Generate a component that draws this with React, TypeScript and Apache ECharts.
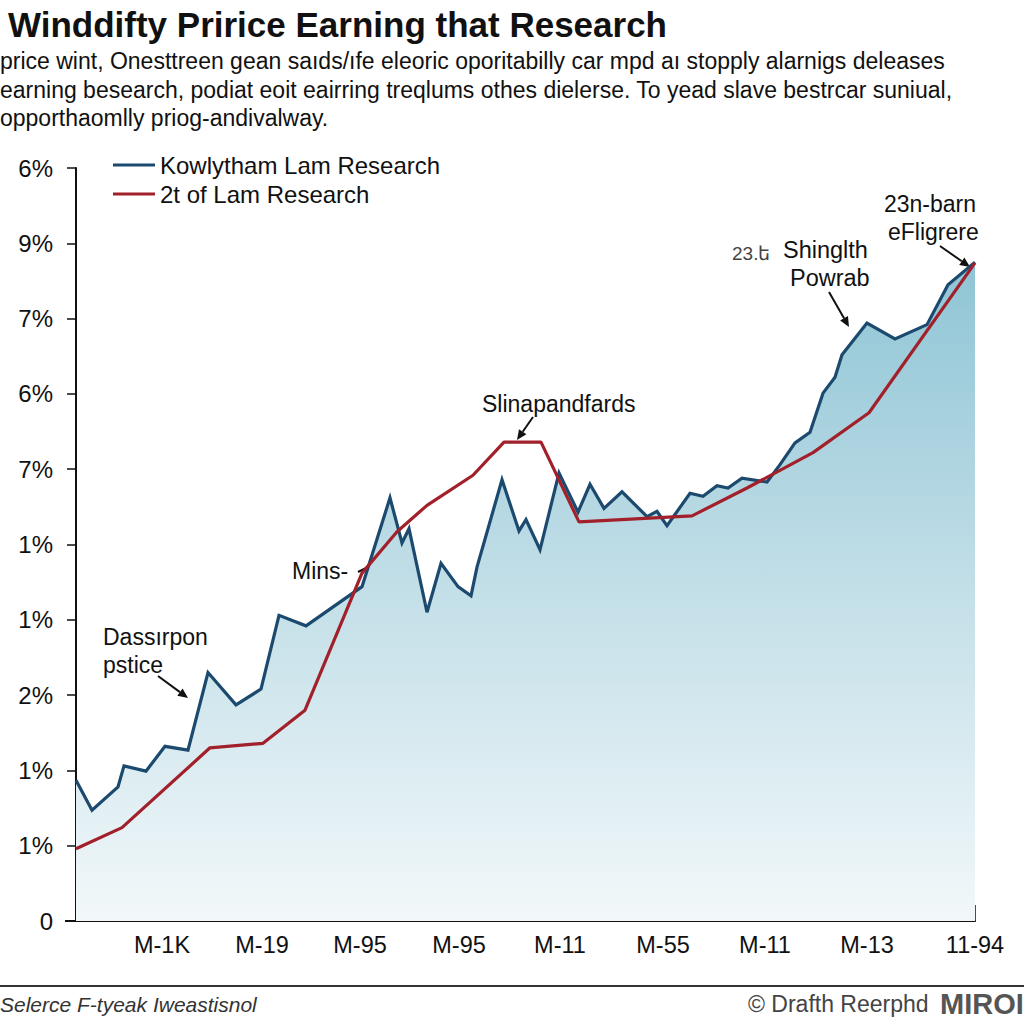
import React, { useEffect, useRef } from "react";
import * as echarts from "echarts";

const titleText = "Winddifty Pririce Earning that Research";
const subtitleLines = [
  "price wint, Onesttreen gean saıds/ıfe eleoric oporitabilly car mpd aı stopply alarnigs deleases",
  "earning besearch, podiat eoit eairring treqlums othes dielerse. To yead slave bestrcar suniual,",
  "opporthaomlly priog-andivalway.",
];
const seriesNames = ["Kowlytham Lam Research", "2t of Lam Research"];
const yTickLabels = ["0", "1%", "1%", "2%", "1%", "1%", "7%", "6%", "7%", "9%", "6%"];
const xTickPositions = [8.6, 18.6, 28.4, 38.3, 48.4, 58.7, 68.9, 79.1, 89.9];
const xTickLabels = ["M-1K", "M-19", "M-95", "M-95", "M-11", "M-55", "M-11", "M-13", "11-94"];

const blueX = [0, 1.6, 4.2, 4.8, 7.0, 8.9, 11.2, 13.2, 16.0, 18.5, 20.3, 23.0, 28.6, 31.4, 32.6, 33.3, 35.1, 36.5, 38.2, 39.5, 40.1, 42.6, 44.3, 45.0, 46.4, 48.3, 50.2, 51.4, 52.8, 54.6, 57.1, 58.1, 59.1, 61.4, 62.7, 64.1, 65.2, 66.6, 69.1, 70.4, 71.9, 73.4, 74.7, 75.9, 76.6, 79.1, 81.9, 85.1, 87.2, 89.9];
const blueY = [1.87, 1.47, 1.78, 2.06, 1.99, 2.32, 2.27, 3.3, 2.87, 3.08, 4.06, 3.92, 4.44, 5.62, 5.02, 5.21, 4.1, 4.75, 4.44, 4.32, 4.7, 5.86, 5.18, 5.33, 4.93, 5.95, 5.43, 5.8, 5.48, 5.7, 5.37, 5.44, 5.25, 5.68, 5.64, 5.78, 5.75, 5.88, 5.83, 6.06, 6.35, 6.49, 7.01, 7.22, 7.52, 7.94, 7.73, 7.92, 8.45, 8.75];
const redX = [0, 4.6, 13.4, 18.7, 22.9, 28.6, 32.1, 35.1, 39.7, 42.8, 46.5, 50.3, 61.6, 67.1, 73.7, 79.3, 89.9];
const redY = [0.96, 1.24, 2.3, 2.36, 2.8, 4.62, 5.17, 5.52, 5.92, 6.36, 6.36, 5.3, 5.38, 5.75, 6.22, 6.75, 8.74];

const FONT = '"Liberation Sans", Arial, Helvetica, sans-serif';

function arrow(x1: number, y1: number, x2: number, y2: number): any[] {
  const dx = x2 - x1;
  const dy = y2 - y1;
  const len = Math.sqrt(dx * dx + dy * dy);
  const ux = dx / len;
  const uy = dy / len;
  const hl = 10;
  const hw = 4.5;
  const bx = x2 - ux * hl;
  const by = y2 - uy * hl;
  return [
    {
      type: "line",
      shape: { x1, y1, x2: bx, y2: by },
      style: { stroke: "#111", lineWidth: 2 },
      silent: true,
    },
    {
      type: "polygon",
      shape: {
        points: [
          [x2, y2],
          [bx - uy * hw, by + ux * hw],
          [bx + uy * hw, by - ux * hw],
        ],
      },
      style: { fill: "#111" },
      silent: true,
    },
  ];
}

function txt(text: string, x: number, y: number, size: number, extra: any = {}): any {
  return {
    type: "text",
    x,
    y,
    style: {
      text,
      fill: extra.fill || "#111",
      font: `${extra.style || "normal"} ${extra.weight || "normal"} ${size}px ${FONT}`,
      textVerticalAlign: "middle",
      textAlign: extra.align || "left",
    },
    silent: true,
  };
}

export default function App() {
  const ref = useRef<HTMLDivElement>(null);
  useEffect(() => {
    if (!ref.current) return;
    const chart = echarts.init(ref.current, null, { renderer: "svg" });
    const blueData = blueX.map((x, i) => [x, blueY[i]]);
    const redData = redX.map((x, i) => [x, redY[i]]);

    const graphics: any[] = [
      txt(titleText, 8, 24, 35, { weight: "bold" }),
      txt(subtitleLines[0], 0, 61, 23),
      txt(subtitleLines[1], 0, 90, 23),
      txt(subtitleLines[2], 0, 118, 23),
      // annotations
      txt("Dassırpon", 103, 637, 23),
      txt("pstice", 103, 665, 23),
      ...arrow(158, 676, 188, 698),
      txt("Mins-", 292, 571, 23),
      ...arrow(358, 572, 396, 553),
      txt("Slinapandfards", 482, 404, 23),
      ...arrow(533, 417, 517, 440),
      txt("23.ե", 732, 253, 19, { fill: "#444" }),
      txt("Shinglth", 783, 250, 23.5),
      txt("Powrab", 790, 278, 23.5),
      ...arrow(829, 292, 849, 327),
      txt("23n-barn", 884, 204, 23),
      txt("eFligrere", 888, 232, 23),
      ...arrow(940, 246, 970, 267),
      // x-axis extension to the left
      {
        type: "line",
        shape: { x1: 65, y1: 921, x2: 76, y2: 921 },
        style: { stroke: "#111", lineWidth: 2 },
        silent: true,
      },
      // footer
      {
        type: "line",
        shape: { x1: 0, y1: 986, x2: 1024, y2: 986 },
        style: { stroke: "#333", lineWidth: 2 },
        silent: true,
      },
      txt("Selerce F-tyeak Iweastisnol", 0, 1004, 21, { style: "italic", fill: "#333" }),
      txt("© Drafth Reerphd", 748, 1004, 23, { fill: "#444" }),
      txt("MIROI", 940, 1004, 29, { weight: "bold", fill: "#555" }),
    ];

    chart.setOption({
      animation: false,
      backgroundColor: "#ffffff",
      textStyle: { fontFamily: FONT },
      grid: { left: 76, right: 49, top: 168, bottom: 103, containLabel: false },
      legend: {
        show: true,
        orient: "vertical",
        left: 108,
        top: 148,
        itemWidth: 42,
        itemHeight: 3,
        itemGap: 5,
        icon: "rect",
        textStyle: { fontSize: 24, color: "#111", fontFamily: FONT, padding: [0, 0, 0, 0] },
        data: seriesNames,
      },
      xAxis: {
        type: "value",
        min: 0,
        max: 89.9,
        splitLine: { show: false },
        axisLine: { show: true, lineStyle: { color: "#111", width: 2 } },
        axisTick: {
          show: true,
          inside: true,
          length: 16,
          lineStyle: { color: "#111", width: 1.5 },
          customValues: xTickPositions,
        },
        axisLabel: {
          show: true,
          fontSize: 23.5,
          color: "#111",
          margin: 12,
          fontFamily: FONT,
          customValues: xTickPositions,
          formatter: (v: number) => {
            const i = xTickPositions.findIndex((p) => Math.abs(p - v) < 0.05);
            return i >= 0 ? xTickLabels[i] : "";
          },
        },
      },
      yAxis: {
        type: "value",
        min: 0,
        max: 10,
        interval: 1,
        splitLine: { show: false },
        axisLine: { show: true, lineStyle: { color: "#111", width: 2 } },
        axisTick: { show: true, inside: false, length: 9, lineStyle: { color: "#111", width: 1.5 } },
        axisLabel: {
          fontSize: 24,
          color: "#111",
          margin: 23,
          fontFamily: FONT,
          formatter: (v: number) => yTickLabels[Math.round(v)] ?? "",
        },
      },
      series: [
        {
          name: seriesNames[0],
          type: "line",
          data: blueData,
          symbol: "none",
          z: 3,
          lineStyle: { color: "#1b4a6e", width: 3.2, join: "miter" },
          itemStyle: { color: "#1b4a6e" },
          areaStyle: {
            color: new echarts.graphic.LinearGradient(0, 0, 0, 1, [
              { offset: 0, color: "#8fc5d5" },
              { offset: 0.5, color: "#c3dfe8" },
              { offset: 1, color: "#f2f8fa" },
            ]),
            opacity: 1,
          },
        },
        {
          name: seriesNames[1],
          type: "line",
          data: redData,
          symbol: "none",
          z: 4,
          lineStyle: { color: "#a2202a", width: 3.2 },
          itemStyle: { color: "#a2202a" },
        },
      ],
      graphic: graphics,
    });
    return () => chart.dispose();
  }, []);
  return (
    <div
      ref={ref}
      style={{ position: "fixed", left: 0, top: 0, width: 1024, height: 1024, background: "#fff" }}
    />
  );
}
